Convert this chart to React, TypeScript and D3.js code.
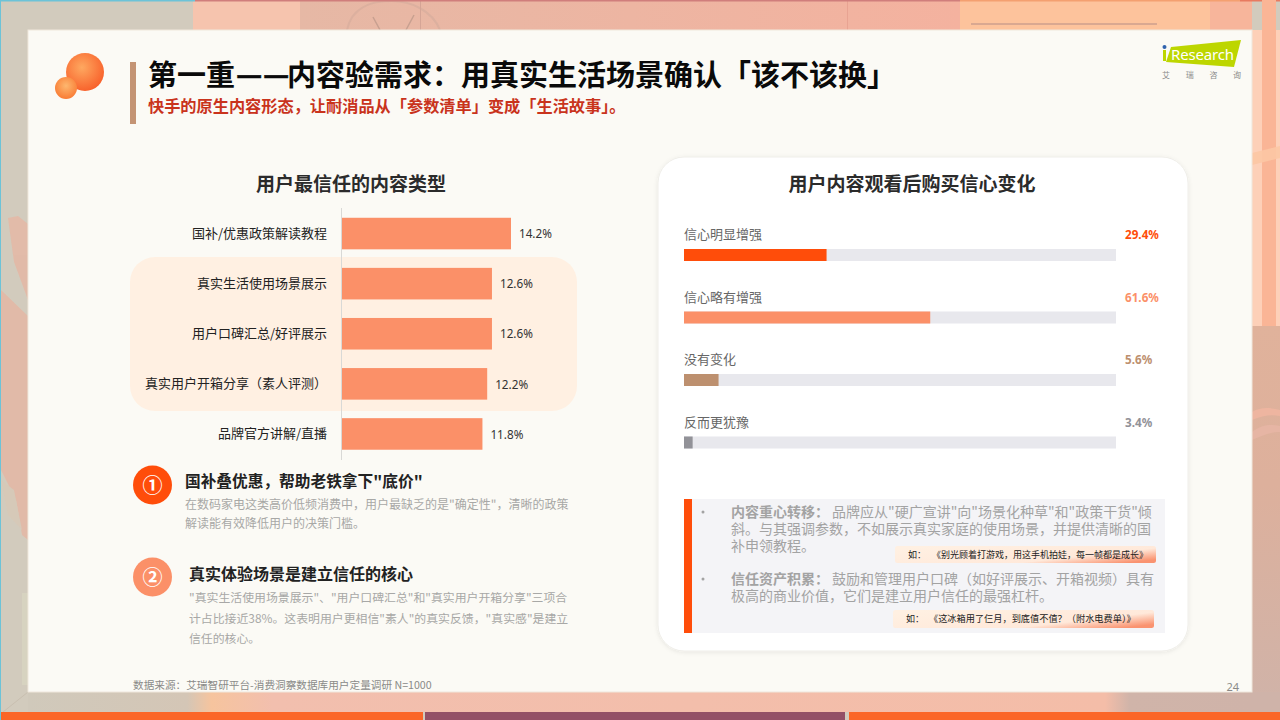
import React from "react";
import * as d3 from "d3";

const trustCategories = ["国补/优惠政策解读教程", "真实生活使用场景展示", "用户口碑汇总/好评展示", "真实用户开箱分享\uFF08素人评测\uFF09", "品牌官方讲解/直播"];
const trustValues = [14.2, 12.6, 12.6, 12.2, 11.8];

const confidenceCategories = ["信心明显增强", "信心略有增强", "没有变化", "反而更犹豫"];
const confidenceValues = [29.4, 61.6, 5.6, 3.4];
// the reference draws these progress fills at rounded shares of the track, not at the printed value
const confidenceFillShare = [33, 57, 8, 2];
const confidenceColors = ["#ff4d0a", "#fb9068", "#bd906f", "#929298"];

const titleStart = "第一重";
const titleDash = "\u2014";
const titleRest = "内容验需求\uFF1A用真实生活场景确认「该不该换」";
const subtitleText = "快手的原生内容形态\uFF0C让耐消品从「参数清单」变成「生活故事」。";

const insight1Head = "国补叠优惠\uFF0C帮助老铁拿下\"底价\"";
const insight1Lines = ["在数码家电这类高价低频消费中\uFF0C用户最缺乏的是\"确定性\"\uFF0C清晰的政策", "解读能有效降低用户的决策门槛。"];
const insight2Head = "真实体验场景是建立信任的核心";
const insight2Lines = ["\"真实生活使用场景展示\"、\"用户口碑汇总\"和\"真实用户开箱分享\"三项合", "计占比接近38%。这表明用户更相信\"素人\"的真实反馈\uFF0C\"真实感\"是建立", "信任的核心。"];
const sourceText = "数据来源\uFF1A艾瑞智研平台-消费洞察数据库用户定量调研 N=1000";

const note1Lead = "内容重心转移\uFF1A";
const note1Lines = ["品牌应从\"硬广宣讲\"向\"场景化种草\"和\"政策干货\"倾", "斜。与其强调参数\uFF0C不如展示真实家庭的使用场景\uFF0C并提供清晰的国", "补申领教程。"];
const note2Lead = "信任资产积累\uFF1A";
const note2Lines = ["鼓励和管理用户口碑\uFF08如好评展示、开箱视频\uFF09具有", "极高的商业价值\uFF0C它们是建立用户信任的最强杠杆。"];
const pillLead = "如\uFF1A";
const pill1Text = "《别光顾着打游戏\uFF0C用这手机拍娃\uFF0C每一帧都是成长》";
const pill2Text = "《这冰箱用了仨月\uFF0C到底值不值\uFF1F\uFF08附水电费单\uFF09》";

const FONT = "'Noto Sans CJK SC', 'Noto Sans', sans-serif";
const LATIN = "'Noto Sans', 'Noto Sans CJK SC', sans-serif";

const yTrust = d3.scaleBand<string>().domain(trustCategories).range([208.5, 459]).paddingInner(0.37).paddingOuter(0.185);
const xTrust = d3.scaleLinear().domain([0, 14.2]).range([342, 511]);
const yConf = d3.scalePoint<string>().domain(confidenceCategories).range([255, 442.5]);
const xConf = d3.scaleLinear().domain([0, 100]).range([684, 1116]);

function Background() {
  return (
    <g>
      <rect x={0} y={0} width={1280} height={720} fill="#d2cbbd" />
      <rect x={193} y={0} width={110} height={30} fill="#f6c4ae" />
      <rect x={300} y={0} width={660} height={30} fill="url(#topBand)" />
      <rect x={960} y={0} width={250} height={30} fill="#fdc39c" />
      <rect x={1210} y={0} width={42} height={30} fill="#f7b59b" />
      <rect x={971} y={23} width={186} height={2} fill="#d9a891" />
      <path d="M347 30 C352 6 372 1 392 1 C410 1 432 10 440 30" fill="none" stroke="#dcb09f" strokeWidth={2} />
      <path d="M373 17 L380 30 M414 15 L406 30" fill="none" stroke="#c8a090" strokeWidth={1.5} />
      <rect x={420} y={0} width={1} height={30} fill="#d5a596" />
      <rect x={847} y={0} width={1} height={30} fill="#e8a392" />
      <rect x={0} y={0} width={195} height={1.5} fill="#6cc3d8" />
      <rect x={195} y={0} width={765} height={1.5} fill="#d07e7c" />
      <rect x={960} y={0} width={280} height={1.5} fill="#f4a070" />
      <rect x={1240} y={0} width={40} height={1.5} fill="#e87a60" />
      {/* left plant */}
      <g opacity={0.9}>
        <path d="M8 218 L18 216 L28 224 L28 300 L14 262Z" fill="#e3b9a6" />
        <path d="M1 290 L28 316 L28 540 L22 535 L16 500 L1 470Z" fill="#e3b9a6" />
        <path d="M1 480 L14 490 L22 530 L8 515Z" fill="#d7c9b8" />
      </g>
      <rect x={22} y={593} width={6} height={92} fill="#d7d3c0" />
      {/* right strip */}
      <rect x={1252} y={30} width={28} height={300} fill="#fdd0b8" />
      <rect x={1262} y={0} width={14} height={330} fill="#fab596" />
      <path d="M1252 153 L1280 146 L1280 158 L1252 165Z" fill="#fcc6a4" opacity={0.9} />
      <rect x={1252} y={326} width={28} height={394} fill="url(#sandBand)" />
      <path d="M1252 412 C1262 406 1272 408 1280 410 L1280 416 C1270 414 1262 416 1252 420Z" fill="#eeb5a0" />
      <path d="M1252 432 C1262 424 1272 424 1280 426 L1280 432 C1270 432 1262 436 1252 440Z" fill="#e6b5a4" />
      {/* bottom strip */}
      <rect x={28} y={692} width={1224} height={20} fill="url(#floorBand)" />
      <rect x={1252} y={692} width={28} height={20} fill="#cfb3a9" />
      <path d="M3 712 L28 692" stroke="#c9bfb0" />
      <rect x={0} y={0} width={1} height={720} fill="#6cc3d8" />
      <rect x={1} y={712} width={422} height={8} fill="#fb6628" />
      <rect x={425} y={712} width={420} height={8} fill="#935066" />
      <rect x={849} y={712} width={431} height={8} fill="#fb6628" />
    </g>
  );
}

function Header() {
  return (
    <g fontFamily={FONT}>
      <circle cx={85} cy={72} r={19} fill="url(#bubble)" />
      <circle cx={66} cy={88} r={11} fill="url(#bubbleSmall)" />
      <rect x={130} y={62} width={6} height={62} fill="#c49474" />
      <text x={148} y={86} fontSize={29} fontWeight={700} fill="#0a0a0a">{titleStart}</text>
      <text x={236} y={85} fontSize={29} fontWeight={700} fill="#0a0a0a" stroke="#0a0a0a" strokeWidth={0.4}>{titleDash}</text>
      <text x={263} y={85} fontSize={29} fontWeight={700} fill="#0a0a0a" stroke="#0a0a0a" strokeWidth={0.4}>{titleDash}</text>
      <text x={287} y={86} fontSize={29} fontWeight={700} fill="#0a0a0a">{titleRest}</text>
      <text x={148} y={111.5} fontSize={16.2} fontWeight={700} fill="#c9331c">{subtitleText}</text>
      {/* logo */}
      <path d="M1171 47 L1241 40 L1234 67 L1166 62Z" fill="#bdd600" />
      <circle cx={1164.5} cy={47} r={2} fill="#2f62ad" />
      <rect x={1163} y={50} width={3} height={11} fill="#bdd600" />
      <text x={1171} y={60} fontSize={15} fill="#fff" fontFamily={LATIN} textLength={63}>Research</text>
      {["艾", "瑞", "咨", "询"].map((c, i) => (
        <text key={c} x={1166 + i * 23.7} y={77.5} fontSize={8} fill="#8a8a8a" textAnchor="middle">{c}</text>
      ))}
    </g>
  );
}

function TrustChart() {
  return (
    <g fontFamily={FONT}>
      <text x={351} y={191} textAnchor="middle" fontSize={19} fontWeight={700} fill="#2b2b2b">用户最信任的内容类型</text>
      <rect x={130} y={257} width={447} height={154} rx={25} fill="#fff0e2" />
      <line x1={341.5} x2={341.5} y1={208} y2={460} stroke="#d9d9d6" />
      {trustCategories.map((c, i) => {
        const y = yTrust(c) as number;
        const h = yTrust.bandwidth();
        return (
          <g key={c}>
            <rect x={xTrust(0)} y={y} width={xTrust(trustValues[i]) - xTrust(0)} height={h} fill="#fb9068" />
            <text x={327} y={y + h / 2 - 0.5} dy="0.36em" textAnchor="end" fontSize={13} fill="#222">{c}</text>
            <text x={xTrust(trustValues[i]) + 8} y={y + h / 2 + 0.5} dy="0.36em" fontSize={11.7} fill="#333" fontFamily={LATIN}>{trustValues[i].toFixed(1)}%</text>
          </g>
        );
      })}
    </g>
  );
}

function Insights() {
  const bodyStyle = { fontSize: 12, fill: "#a8a8a6" };
  const body2Style = { fontSize: 11.88, fill: "#a8a8a6" };
  return (
    <g fontFamily={FONT}>
      <circle cx={152.5} cy={485} r={19.5} fill="#ff4d0a" />
      <text x={152.5} y={486} textAnchor="middle" dy="0.36em" fontSize={20} fontWeight={700} fill="#fff">①</text>
      <text x={185} y={486.5} fontSize={15.7} fontWeight={700} fill="#222">{insight1Head}</text>
      <text x={185} y={509} {...bodyStyle}>{insight1Lines[0]}</text>
      <text x={185} y={528} {...bodyStyle}>{insight1Lines[1]}</text>

      <circle cx={152.5} cy={577} r={19.5} fill="#fb9068" />
      <text x={152.5} y={578} textAnchor="middle" dy="0.36em" fontSize={20} fontWeight={700} fill="#fff">②</text>
      <text x={189} y={579.5} fontSize={16} fontWeight={700} fill="#222">{insight2Head}</text>
      <text x={189} y={602} {...body2Style}>{insight2Lines[0]}</text>
      <text x={189} y={623} {...body2Style}>{insight2Lines[1]}</text>
      <text x={189} y={643} {...body2Style}>{insight2Lines[2]}</text>

      <text x={133} y={689} fontSize={10.65} fill="#8a8a88">{sourceText}</text>
      <text x={1239} y={691} textAnchor="end" fontSize={11} fill="#8a8a88" fontFamily={LATIN}>24</text>
    </g>
  );
}

function ConfidenceCard() {
  return (
    <g fontFamily={FONT}>
      <rect x={658} y={157} width={530} height={494} rx={26} fill="#fff" stroke="#efeee9" filter="url(#cardShadow)" />
      <text x={912} y={191} textAnchor="middle" fontSize={19} fontWeight={700} fill="#2b2b2b">用户内容观看后购买信心变化</text>
      {confidenceCategories.map((c, i) => {
        const y = yConf(c) as number;
        return (
          <g key={c}>
            <text x={684} y={y - 16} fontSize={13} fill="#666">{c}</text>
            <rect x={xConf(0)} y={y - 6} width={xConf(100) - xConf(0)} height={12} fill="#e8e8ed" />
            <rect x={xConf(0)} y={y - 6} width={xConf(confidenceFillShare[i]) - xConf(0)} height={12} fill={confidenceColors[i]} />
            <text x={1125} y={y - 16} fontSize={11.7} fontWeight={700} fill={confidenceColors[i]} fontFamily={LATIN}>{confidenceValues[i].toFixed(1)}%</text>
          </g>
        );
      })}
      <rect x={692} y={499} width={473} height={134} fill="#f4f4f7" />
      <rect x={684} y={499} width={8} height={134} fill="#ff4d0a" />
      <g fontSize={14} fill="#a3a3a3">
        <circle cx={703} cy={512} r={1.5} fill="#a3a3a3" />
        <text>
          <tspan x={731} y={517} fontWeight={700}>{note1Lead}</tspan>
          <tspan x={832} y={517}>{note1Lines[0]}</tspan>
          <tspan x={731} y={534}>{note1Lines[1]}</tspan>
          <tspan x={731} y={551}>{note1Lines[2]}</tspan>
        </text>
        <circle cx={703} cy={579} r={1.5} fill="#a3a3a3" />
        <text>
          <tspan x={731} y={584} fontWeight={700}>{note2Lead}</tspan>
          <tspan x={832} y={584}>{note2Lines[0]}</tspan>
          <tspan x={731} y={601}>{note2Lines[1]}</tspan>
        </text>
      </g>
      <rect x={895} y={546} width={261} height={17} rx={2.5} fill="url(#pill)" />
      <text x={908} y={557.5} fontSize={9} fill="#222">{pillLead}</text>
      <text x={932} y={557.5} fontSize={9} fill="#222">{pill1Text}</text>
      <rect x={893} y={610} width={261} height={18} rx={2.5} fill="url(#pill)" />
      <text x={906} y={621.5} fontSize={9} fill="#222">{pillLead}</text>
      <text x={929} y={621.5} fontSize={9.2} fill="#222">{pill2Text}</text>
    </g>
  );
}

export default function App() {
  return (
    <svg width={1280} height={720} viewBox="0 0 1280 720" style={{ position: "fixed", left: 0, top: 0, display: "block" }}>
      <defs>
        <linearGradient id="topBand" x1="0" x2="1" y1="0" y2="0">
          <stop offset="0" stopColor="#e6b8a5" />
          <stop offset="1" stopColor="#f4b29f" />
        </linearGradient>
        <linearGradient id="sandBand" x1="0" x2="0" y1="0" y2="1">
          <stop offset="0" stopColor="#e0b29b" />
          <stop offset="0.4" stopColor="#ddb09c" />
          <stop offset="1" stopColor="#cfb3a9" />
        </linearGradient>
        <linearGradient id="floorBand" x1="0" x2="1" y1="0" y2="0">
          <stop offset="0" stopColor="#d0c9bb" />
          <stop offset="0.13" stopColor="#d4c6b6" />
          <stop offset="0.15" stopColor="#f6c49e" />
          <stop offset="0.2" stopColor="#f2bfae" />
          <stop offset="0.88" stopColor="#f4bda8" />
          <stop offset="0.9" stopColor="#d0b4a9" />
          <stop offset="1" stopColor="#cfb3a9" />
        </linearGradient>
        <radialGradient id="bubble" cx="0.42" cy="0.38" r="0.65">
          <stop offset="0" stopColor="#fea860" />
          <stop offset="1" stopColor="#f8602a" />
        </radialGradient>
        <radialGradient id="bubbleSmall" cx="0.5" cy="0.4" r="0.65">
          <stop offset="0" stopColor="#fdb76f" />
          <stop offset="1" stopColor="#f9772f" />
        </radialGradient>
        <linearGradient id="pill" x1="0" x2="1" y1="0.2" y2="0.8">
          <stop offset="0" stopColor="#fff0e2" />
          <stop offset="0.7" stopColor="#ffe9da" />
          <stop offset="1" stopColor="#fa9370" />
        </linearGradient>
        <filter id="cardShadow" x="-5%" y="-5%" width="110%" height="110%">
          <feDropShadow dx={0} dy={1} stdDeviation={2} floodColor="#000" floodOpacity={0.08} />
        </filter>
      </defs>
      <Background />
      <rect x={28} y={30} width={1224} height={662} fill="#fbfaf5" stroke="#efe7dc" />
      <Header />
      <TrustChart />
      <Insights />
      <ConfidenceCard />
    </svg>
  );
}
